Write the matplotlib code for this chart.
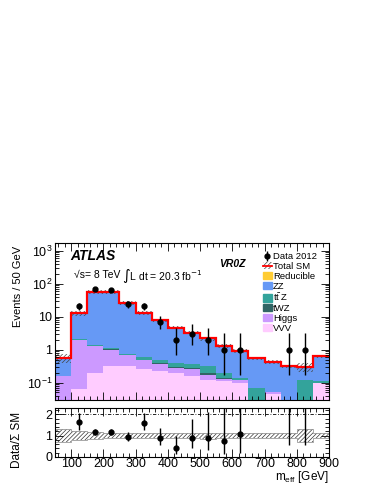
import numpy as np
import matplotlib
matplotlib.use("Agg")
import matplotlib.pyplot as plt
from matplotlib.lines import Line2D
from matplotlib.patches import Patch

plt.rcParams['font.family'] = ['Liberation Sans', 'DejaVu Sans']
plt.rcParams['hatch.linewidth'] = 0.5

# ---- data ----
edges = [50, 100, 150, 200, 250, 300, 350, 400, 450, 500, 550, 600, 650, 700, 750, 800, 850, 900]
vvv = [0.02, 0.063, 0.2, 0.33, 0.31, 0.26, 0.22, 0.19, 0.16, 0.12, 0.11, 0.1, 0.0, 0.045, 0.0, 0.0, 0.1]
higgs = [0.14, 1.94, 1.06, 0.67, 0.38, 0.21, 0.14, 0.09, 0.09, 0.05, 0.02, 0.02, 0.0, 0.005, 0.0, 0.0, 0.0]
twz = [0.0, 0.01, 0.02, 0.02, 0.02, 0.02, 0.02, 0.02, 0.02, 0.02, 0.01, 0.0, 0.0, 0.0, 0.0, 0.0, 0.0]
ttz = [0.0, 0.04, 0.07, 0.08, 0.05, 0.10, 0.09, 0.10, 0.10, 0.14, 0.05, 0.02, 0.066, 0.0, 0.0, 0.12, 0.01]
zz = [0.39, 10.85, 56.65, 55.9, 25.24, 12.41, 7.43, 4.3, 2.93, 1.87, 1.11, 0.79, 0.484, 0.37, 0.31, 0.18, 0.52]
reducible = [0.0] * 17
rel_unc = [0.30, 0.20, 0.15, 0.12, 0.12, 0.12, 0.12, 0.12, 0.12, 0.14, 0.12, 0.12, 0.12, 0.12, 0.12, 0.32, 0.13]

data_x = [125, 175, 225, 275, 325, 375, 425, 475, 525, 575, 625, 775, 825]
data_y = [21, 68, 66, 24, 21, 7, 2, 3, 2, 1, 1, 1, 1]
data_elo = [4.5, 8.2, 8.1, 4.9, 4.5, 2.6, 1.3, 1.6, 1.3, 0.83, 0.83, 0.83, 0.83]
data_ehi = [5.6, 9.3, 9.2, 6.0, 5.6, 3.8, 2.6, 2.9, 2.6, 2.3, 2.3, 2.3, 2.3]

colors = {
    'VVV': '#FFCCFF', 'Higgs': '#CC99FF', 'tWZ': '#306565',
    'ttZ': '#33A39B', 'ZZ': '#6699F5', 'Reducible': '#FFCC33',
}

edges_a = np.array(edges, float)
stack = [('VVV', vvv), ('Higgs', higgs), ('tWZ', twz), ('ttZ', ttz), ('ZZ', zz), ('Reducible', reducible)]

fig = plt.figure(figsize=(3.74, 4.84), dpi=100)
ax = fig.add_axes([0.147, 0.174, 0.733, 0.324])
axr = fig.add_axes([0.147, 0.056, 0.733, 0.101])

base = np.full(17, 1e-4)
for name, vals in stack:
    v = np.array(vals, float)
    top = base + v
    ax.stairs(top, edges_a, baseline=base, fill=True, color=colors[name], lw=0)
    base = top
total = base - 1e-4

lo = total * (1 - np.array(rel_unc))
hi = total * (1 + np.array(rel_unc))
ax.stairs(hi, edges_a, baseline=lo, fill=True, facecolor='none', edgecolor='#444444',
          hatch='////////', lw=0)
ax.stairs(total, edges_a, baseline=None, color='red', lw=1.6)

dx = np.array(data_x, float)
dy = np.array(data_y, float)
eb = ax.errorbar(dx, dy, yerr=[data_elo, data_ehi], fmt='o', color='black', ms=3.5,
                 elinewidth=1.0, capsize=0)

ax.set_yscale('log')
ax.set_xlim(50, 900)
ax.set_ylim(0.03, 1750)

# ratio panel
rlo = lo / total
rhi = hi / total
axr.stairs(rhi, edges_a, baseline=rlo, fill=True, facecolor='none', edgecolor='#333333',
           hatch='////////', lw=0)
axr.stairs(rhi, edges_a, baseline=rlo, fill=False, color='#999999', lw=0.6)
idx = ((dx - 50) // 50).astype(int)
tot_at = total[idx]
axr.errorbar(dx, dy / tot_at, yerr=[np.array(data_elo) / tot_at, np.array(data_ehi) / tot_at],
             fmt='o', color='black', ms=3.5, elinewidth=1.0, capsize=0)
axr.axhline(2, color='black', lw=0.6, ls=(0, (4, 2, 1, 2)))
axr.set_xlim(50, 900)
axr.set_ylim(0, 2.3)
axr.set_yticks([0, 1, 2])
axr.set_xticks([100, 200, 300, 400, 500, 600, 700, 800, 900])
ax.set_xticks([100, 200, 300, 400, 500, 600, 700, 800, 900])
ax.set_xticklabels([])

for a in (ax, axr):
    a.tick_params(which='both', direction='in', top=True, right=True, labelsize=9, pad=2)
    a.tick_params(which='major', length=6, width=0.6)
    a.tick_params(which='minor', length=3, width=0.6)
    for s in a.spines.values():
        s.set_linewidth(0.8)
axr.tick_params(axis='x', pad=1)
ax.xaxis.set_minor_locator(matplotlib.ticker.MultipleLocator(20))
axr.xaxis.set_minor_locator(matplotlib.ticker.MultipleLocator(20))
axr.yaxis.set_minor_locator(matplotlib.ticker.MultipleLocator(0.2))
ax.yaxis.set_major_locator(matplotlib.ticker.LogLocator(base=10, numticks=10))
ax.yaxis.set_minor_locator(matplotlib.ticker.LogLocator(base=10, subs=np.arange(2, 10), numticks=20))
ax.yaxis.set_minor_formatter(matplotlib.ticker.NullFormatter())

def fmt(v, pos):
    if abs(v - 1) < 1e-9:
        return '1'
    if abs(v - 10) < 1e-9:
        return '10'
    e = int(round(np.log10(v)))
    return r'$\mathregular{10^{%d}}$' % e
ax.yaxis.set_major_formatter(matplotlib.ticker.FuncFormatter(fmt))

ax.set_ylabel('Events / 50 GeV', fontsize=8)
ax.yaxis.set_label_coords(-0.115, 0.72)
axr.set_ylabel('Data/Σ SM', fontsize=8.5)
axr.yaxis.set_label_coords(-0.115, 0.35)
axr.set_xlabel(r'm$_\mathregular{eff}$ [GeV]', fontsize=8.5, loc='right')
axr.xaxis.set_label_coords(1.0, -0.25)

ax.text(0.055, 0.96, 'ATLAS', transform=ax.transAxes, fontsize=10, fontweight='bold',
        style='italic', va='top')
ax.text(0.07, 0.83, '√s= 8 TeV', transform=ax.transAxes, fontsize=7.5, va='top')
ax.text(0.245, 0.845, r'$\int$L dt = 20.3 fb$^{-1}$', transform=ax.transAxes, fontsize=7.5, va='top')
ax.text(0.6, 0.9, 'VR0Z', transform=ax.transAxes, fontsize=7.5, fontweight='bold',
        style='italic', va='top')

handles = [
    eb,
    (Patch(facecolor='none', edgecolor='#444444', hatch='////////', lw=0),
     Line2D([], [], color='red', lw=1.3)),
    Patch(color=colors['Reducible']), Patch(color=colors['ZZ']), Patch(color=colors['ttZ']),
    Patch(color=colors['tWZ']), Patch(color=colors['Higgs']), Patch(color=colors['VVV']),
]
labels = ['Data 2012', 'Total SM', 'Reducible', 'ZZ', r't$\bar{\mathregular{t}}$ Z', 'tWZ', 'Higgs', 'VVV']
leg = ax.legend(handles, labels, loc='upper left', bbox_to_anchor=(0.74, 0.97), frameon=False,
                fontsize=6.8, handlelength=1.0, handleheight=0.8, handletextpad=0.1,
                labelspacing=0.08, borderpad=0)

fig.savefig('out.png', dpi=100)
